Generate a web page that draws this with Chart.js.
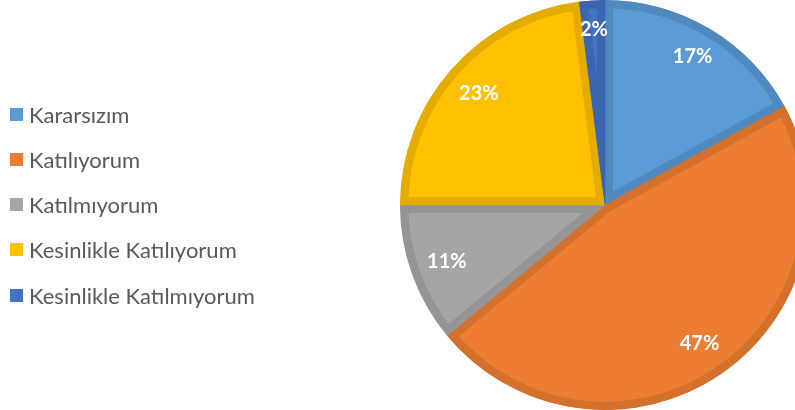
<!DOCTYPE html>
<html>
<head>
<meta charset="utf-8">
<script src="https://cdn.jsdelivr.net/npm/chart.js@4/dist/chart.umd.min.js"></script>
<style>
  html, body { margin:0; padding:0; width:795px; height:410px; overflow:hidden; background:#fff; }
  #wrap { position:absolute; left:0; top:0; width:810px; height:410px; }
  #legend { position:absolute; left:0; top:0; font-family:Lato, "Open Sans", sans-serif; font-size:22px; color:#595959; }
  .item { position:absolute; left:10px; height:24px; display:flex; align-items:center; white-space:nowrap; }
  .sw { width:13px; height:13px; margin-right:6px; }
</style>
</head>
<body>
<div id="wrap"><canvas id="c" width="810" height="410"></canvas></div>
<div id="legend"></div>
<script>
const categories = ["Kararsızım", "Katılıyorum", "Katılmıyorum", "Kesinlikle Katılıyorum", "Kesinlikle Katılmıyorum"];
const values = [17, 47, 11, 23, 2];
const fillColors = ["#5B9BD5", "#ED7D31", "#A5A5A5", "#FFC000", "#4472C4"];
const edgeColors = ["#4F89BD", "#D3702C", "#959595", "#E5AC00", "#3C65B0"];
const legendRows = [114, 159, 204, 249, 295];

const legend = document.getElementById('legend');
categories.forEach((c, i) => {
  const d = document.createElement('div');
  d.className = 'item';
  d.style.top = (legendRows[i] - 12) + 'px';
  d.innerHTML = '<span class="sw" style="background:' + fillColors[i] + '"></span><span></span>';
  d.lastChild.textContent = c;
  legend.appendChild(d);
});

const labelPlugin = {
  id: 'pctLabels',
  afterDatasetsDraw(chart) {
    const ctx = chart.ctx;
    const meta = chart.getDatasetMeta(0);
    ctx.save();
    ctx.font = 'bold 20px Lato, "Open Sans", sans-serif';
    ctx.fillStyle = '#ffffff';
    ctx.textAlign = 'center';
    ctx.textBaseline = 'middle';
    meta.data.forEach((arc, i) => {
      const p = arc.getProps(['x','y','startAngle','endAngle','outerRadius'], true);
      const mid = (p.startAngle + p.endAngle) / 2;
      const r = p.outerRadius * (values[i] < 5 ? 0.86 : (values[i] < 30 && values[i] > 15 && i === 0 ? 0.84 : 0.82));
      ctx.fillText(values[i] + '%', p.x + Math.cos(mid) * r, p.y + Math.sin(mid) * r);
    });
    ctx.restore();
  }
};

new Chart(document.getElementById('c'), {
  type: 'pie',
  data: {
    labels: categories,
    datasets: [{
      data: values,
      backgroundColor: fillColors,
      borderColor: edgeColors,
      borderWidth: 8,
      borderAlign: 'inner',
      hoverOffset: 0
    }]
  },
  options: {
    responsive: false,
    animation: false,
    layout: { padding: { left: 400, right: 0, top: 0, bottom: 0 } },
    plugins: { legend: { display: false }, tooltip: { enabled: false } }
  },
  plugins: [labelPlugin]
});
</script>
</body>
</html>
